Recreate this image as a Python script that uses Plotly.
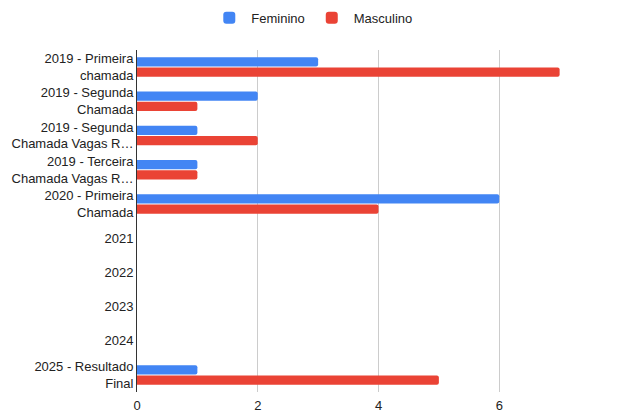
import plotly.graph_objects as go

categories = [
    "2019 - Primeira<br>chamada",
    "2019 - Segunda<br>Chamada",
    "2019 - Segunda<br>Chamada Vagas R…",
    "2019 - Terceira<br>Chamada Vagas R…",
    "2020 - Primeira<br>Chamada",
    "2021",
    "2022",
    "2023",
    "2024",
    "2025 - Resultado<br>Final",
]
feminino = [3, 2, 1, 1, 6, 0, 0, 0, 0, 1]
masculino = [7, 1, 2, 1, 4, 0, 0, 0, 0, 5]
x_ticks = [0, 2, 4, 6, 8]

fig = go.Figure()
fig.add_trace(go.Bar(y=categories, x=feminino, name="Feminino", orientation="h",
                     marker=dict(color="#4285F4", cornerradius=2, line=dict(width=0))))
fig.add_trace(go.Bar(y=categories, x=masculino, name="Masculino", orientation="h",
                     marker=dict(color="#EA4335", cornerradius=2, line=dict(width=0))))

# page body has an 8px margin; compensate so the chart lands where the reference has it
fig.update_layout(
    width=621, height=413,
    margin=dict(l=129, r=9, t=42, b=29, autoexpand=False),
    barmode="group",
    bargap=0.4,
    bargroupgap=0.1,
    plot_bgcolor="white",
    paper_bgcolor="white",
    font=dict(family="Arial, Liberation Sans, sans-serif", size=13, color="#222222"),
    legend=dict(orientation="h", xref="container", x=0.49, xanchor="center",
                yref="container", y=0.976, yanchor="middle", itemwidth=34,
                font=dict(size=13, color="#222222"), itemclick=False),
    showlegend=True,
)
fig.update_xaxes(range=[0, 8], tickvals=x_ticks, showgrid=True, gridcolor="#cccccc",
                 gridwidth=1, zeroline=False, showline=False, ticks="",
                 ticklabelstandoff=4,
                 automargin=False, tickfont=dict(size=13, color="#222222"))
fig.update_yaxes(type="category", autorange="reversed", showgrid=False, zeroline=False,
                 showline=True, linecolor="#333333", linewidth=1, ticks="",
                 automargin=False, tickfont=dict(size=13, color="#222222"))

fig.write_html("out.html")
